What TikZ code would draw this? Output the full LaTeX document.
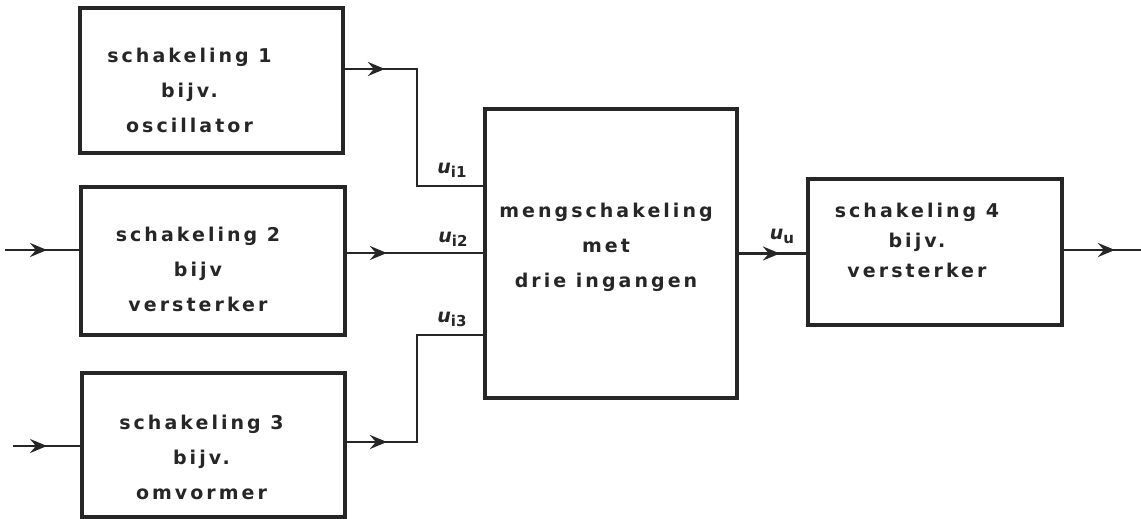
\documentclass[tikz,border=0pt]{standalone}
\usepackage{fontspec}
\newfontfamily\stencil{DejaVu Sans}[LetterSpace=16]
\newfontfamily\labfont{DejaVu Sans}
\usetikzlibrary{arrows.meta,decorations.markings}
\newcommand{\usig}[1]{{\itshape u}\raisebox{-4pt}{\fontsize{15}{15}\selectfont #1}}
\tikzset{
  blk/.style={draw=black!85, line width=3.8pt, inner sep=0pt},
  sig/.style={draw=black!85, line width=2.8pt},
  midtip/.style={decoration={markings,
      mark=at position #1 with {\arrow{Stealth[length=17pt,width=14pt,inset=6pt]}}},
    postaction={decorate}},
  txt/.style={font=\stencil\bfseries\fontsize{19}{35}\selectfont, align=center,
    text=black!85, inner sep=0pt},
  ulab/.style={font=\labfont\bfseries\fontsize{19}{20}\selectfont, text=black!85,
    inner sep=1pt},
}
\begin{document}
\begin{tikzpicture}[x=1pt,y=-1pt]
  \useasboundingbox (0,0) rectangle (1141,519);
  % blokken
  \node[blk, minimum width=263pt, minimum height=145pt] (s1) at (211.5,80.5) {};
  \node[blk, minimum width=264pt, minimum height=148pt] (s2) at (213,261) {};
  \node[blk, minimum width=263pt, minimum height=144pt] (s3) at (213.5,445) {};
  \node[blk, minimum width=252pt, minimum height=289pt] (mix) at (611,253.5) {};
  \node[blk, minimum width=254pt, minimum height=146pt] (s4) at (935,252) {};
  \node[txt] (t1) at ([shift={(-22,10)}]s1.center) {schakeling 1\\bijv.\\oscillator};
  \node[txt] (t2) at ([shift={(-15,8)}]s2.center) {schakeling 2\\bijv\\versterker};
  \node[txt] (t3) at ([shift={(-12,12)}]s3.center) {schakeling 3\\bijv.\\omvormer};
  \node[txt] (tm) at ([shift={(-5,-6)}]mix.center) {mengschakeling\\met\\drie ingangen};
  \node[txt, font=\stencil\bfseries\fontsize{19}{30}\selectfont] (t4)
    at ([shift={(-18,-12)}]s4.center) {schakeling 4\\bijv.\\versterker};
  % verbindingen
  \coordinate (in2) at (5,250);
  \coordinate (in3) at (13,446);
  \coordinate (out) at (1141,250);
  \draw[sig, midtip=42pt] (in2) -- (in2 -| s2.west);
  \draw[sig, midtip=34pt] (in3) -- (in3 -| s3.west);
  \draw[sig, midtip=40pt] ([yshift=11.5pt]s1.east) -- ++(72,0) |- ([yshift=67.5pt]mix.west);
  \draw[sig, midtip=40pt] ([yshift=8pt]s2.east) -- ([yshift=0.5pt]mix.west);
  \draw[sig, midtip=40pt] ([yshift=3pt]s3.east) -- ++(70,0) |- ([yshift=-81.5pt]mix.west);
  \draw[sig, midtip=41pt] (mix.east) -- (mix.east -| s4.west);
  \draw[sig, midtip=51pt] (s4.east |- out) -- (out);
  % spanningen
  \node[ulab] (ui1) at (452,170) {\usig{i1}};
  \node[ulab] (ui2) at (453,239) {\usig{i2}};
  \node[ulab] (ui3) at (452,319) {\usig{i3}};
  \node[ulab] (uu) at (782,236) {\usig{u}};
\end{tikzpicture}
\end{document}
